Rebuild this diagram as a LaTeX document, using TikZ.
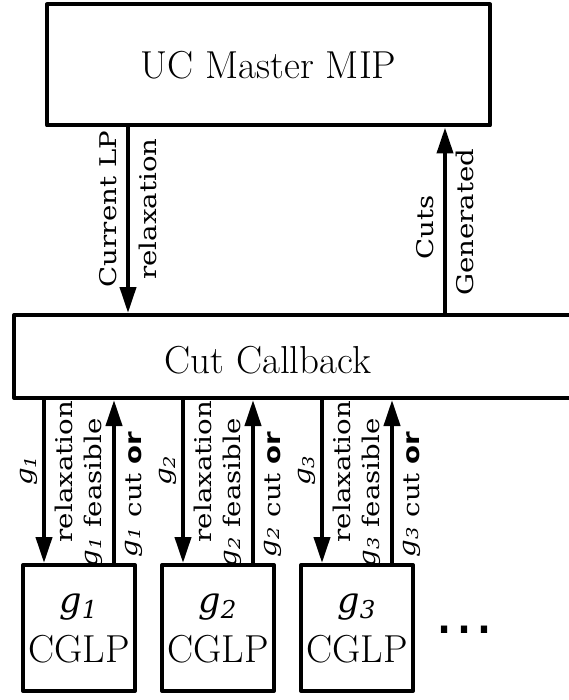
\documentclass[tikz,border=0pt]{standalone}
\usepackage{fontspec}
\newfontfamily\gfont{DejaVu Serif}
\newfontfamily\orfont{DejaVu Sans}
\usetikzlibrary{arrows.meta}
\newcommand{\gsub}[1]{\raisebox{2pt}{\gfont\itshape g\textsubscript{#1}}}
\begin{document}
\begin{tikzpicture}[x=0.5pt, y=-0.5pt, >={Triangle[length=13pt,width=8pt]}, line join=round,
	box/.style={draw, line width=2pt, inner sep=0pt},
	arr/.style={->, line width=2pt},
	lbl/.style={rotate=90, xscale=1.2, inner xsep=0pt, inner ysep=4.5pt, font=\gfont\fontsize{11.5}{13}\selectfont},
	big/.style={font=\fontsize{19.5}{23}\selectfont}]
\def\gap{35} \def\ytop{0} % offsets
\useasboundingbox (0,0) rectangle (568,700);
\node[box, big, minimum width=221.5pt, minimum height=60.5pt] (master) at (268.5,65) {UC Master MIP};
\node[box, anchor=west, minimum width=300pt, minimum height=41.5pt] (cb) at (12,356.5) {};
\node[big] (cbtext) at (268,360) {Cut Callback};
\coordinate (lp) at (128,\ytop);
\coordinate (gc) at (445,\ytop);
\draw[arr] (master.south -| lp) -- (cb.north -| lp)
	node[lbl, pos=.44, anchor=south] {Current LP}
	node[lbl, pos=.44, anchor=north] {relaxation};
\draw[arr] (cb.north -| gc) -- (master.south -| gc)
	node[lbl, pos=.46, anchor=south] {Cuts}
	node[lbl, pos=.49, anchor=north] {Generated};
\foreach \i/\x in {1/79,2/218,3/357}{
	\node[box, big, align=center, minimum width=56pt, minimum height=63pt] (cg\i) at (\x,628)
		{{\fontsize{17.5}{20}\selectfont\gsub{\i}}\\CGLP};
	\path (cg\i.north) ++(-\gap,0) coordinate (d\i) ++(2*\gap,0) coordinate (u\i);
	\draw[arr] (cb.south -| d\i) -- (d\i)
		node[lbl, pos=.43, anchor=south, inner ysep=2pt] {\gsub{\i}}
		node[lbl, pos=.44, anchor=north] {relaxation};
	\draw[arr] (u\i) -- (cb.south -| u\i)
		node[lbl, pos=.43, anchor=south] {\gsub{\i} feasible}
		node[lbl, pos=.42, anchor=north] {\gsub{\i} cut {\orfont\bfseries or}};
}
\node[font=\orfont\fontsize{30}{30}\selectfont] (dots) at (464,630) {…};
\end{tikzpicture}
\end{document}
